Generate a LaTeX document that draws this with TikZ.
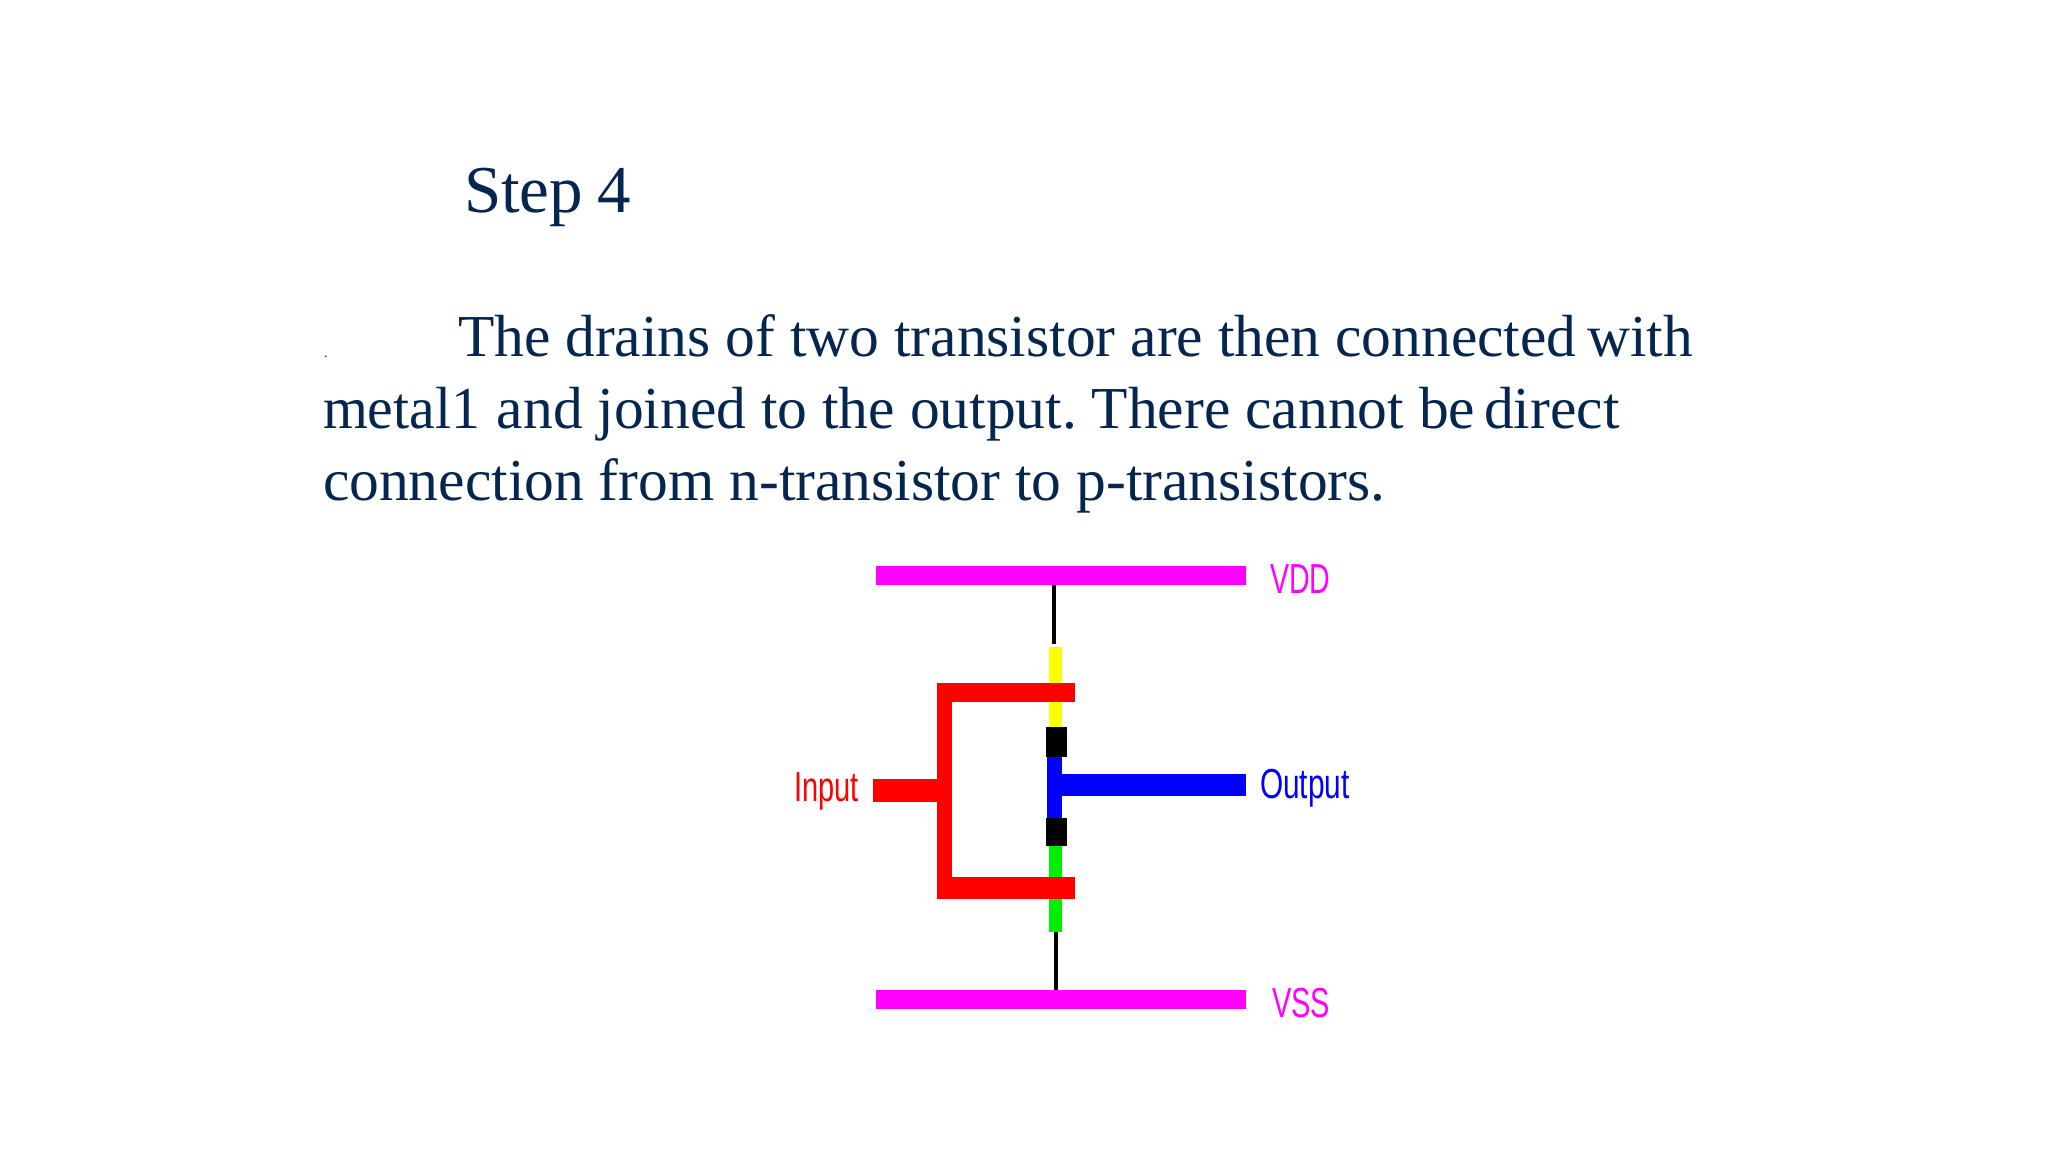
\documentclass[tikz,border=0pt]{standalone}
\usepackage{fontspec}
\setmainfont{Liberation Serif}
\newfontfamily\labfont{Liberation Sans}
\definecolor{inkblue}{HTML}{04264F}
\definecolor{railmag}{HTML}{FF00FF}
\definecolor{dfgreen}{HTML}{00EE00}
\definecolor{dfyellow}{HTML}{FFFF00}
\definecolor{polyred}{HTML}{FF0000}
\definecolor{metalblue}{HTML}{0000FF}
\newcommand{\sqz}[2]{\scalebox{#1}[1]{#2}}
\tikzset{
  txt/.style={anchor=base west,inner sep=0pt,outer sep=0pt,text=inkblue,font=\fontsize{59.5}{60}\selectfont},
  ttl/.style={txt,font=\fontsize{67}{67}\selectfont},
  lab/.style={anchor=base west,inner sep=0pt,outer sep=0pt,font=\labfont\fontsize{42}{42}\selectfont},
}
\begin{document}
\frenchspacing
\begin{tikzpicture}[x=1pt,y=-1pt]
\useasboundingbox (0,0) rectangle (2048,1152);
\fill[white] (0,0) rectangle (2048,1152);
% text
\node[ttl] (title) at (464,212) {Step\hspace{-2pt} 4};
\node[txt] (l1) at (458,356) {The drains of two transistor are then connected\hspace{-4pt} with};
\node[txt] (l2) at (323,428) {\sqz{0.97}{metal1}\hspace{2pt} and joined to the output. There cannot be\hspace{-6pt} direct};
\node[txt] (l3) at (323,500) {connection from n-transistor to p-transistors.};
\node[txt,font=\fontsize{14}{14}\selectfont] (dot) at (324,357) {.};
% rails
\fill[railmag] (876,566) rectangle (1246,585);
\fill[railmag] (876,990) rectangle (1246,1009);
% wires
\fill[black] (1052,585) rectangle (1056,644);
\fill[black] (1054,932) rectangle (1058,990);
% diffusion
\fill[dfyellow] (1049,647) rectangle (1062,727);
\fill[dfgreen] (1049,846) rectangle (1062,932);
% metal output
\fill[metalblue] (1047,757) rectangle (1062,818);
\fill[metalblue] (1062,774) rectangle (1246,796);
% poly gate
\fill[polyred] (937,683) rectangle (1075,702);
\fill[polyred] (937,683) rectangle (952,899);
\fill[polyred] (937,877) rectangle (1075,899);
\fill[polyred] (873,779) rectangle (937,802);
% contacts
\fill[black] (1046,727) rectangle (1067,757);
\fill[black] (1046,818) rectangle (1067,846);
% labels
\node[lab,text=railmag] (vdd) at (1270,593) {\sqz{0.68}{VDD}};
\node[lab,text=railmag] (vss) at (1272,1017) {\sqz{0.69}{VSS}};
\node[lab,text=metalblue] (out) at (1260,798) {\sqz{0.71}{Output}};
\node[lab,text=polyred] (inp) at (794,801) {\sqz{0.69}{Input}};
\end{tikzpicture}
\end{document}
